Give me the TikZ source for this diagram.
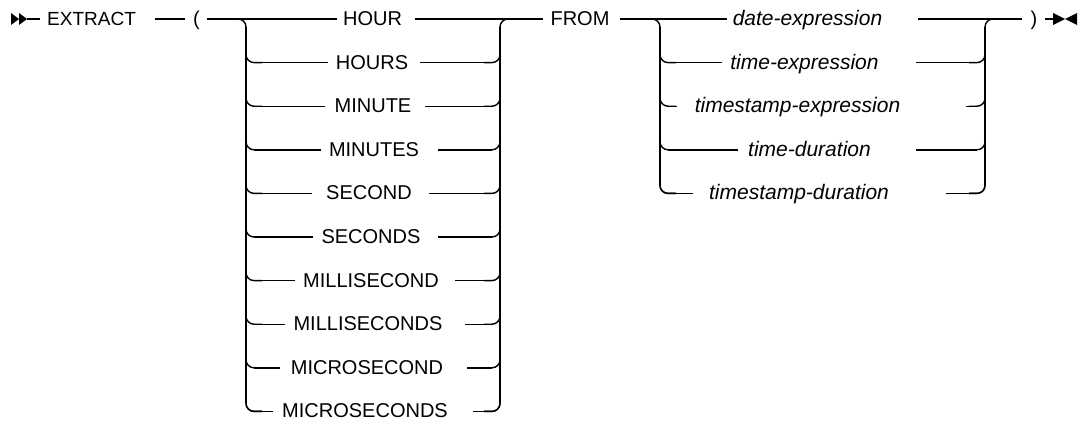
\documentclass[tikz,border=0pt]{standalone}
\usepackage{fontspec}
\setmainfont{Liberation Sans}
\newfontfamily\kwfont{Liberation Sans}
\begin{document}
\begin{tikzpicture}[x=1pt,y=-1pt,
  rail/.style={line width=1.4pt},
  corner/.style={line width=1.4pt, rounded corners=8pt},
  barv/.style={line width=2pt},
  kw/.style={font=\kwfont\fontsize{20}{20}\selectfont, inner sep=0pt, anchor=base},
  var/.style={font=\kwfont\fontsize{21}{21}\selectfont\itshape, inner sep=0pt, anchor=base},
  tip/.style={fill=black, draw=none}]
\useasboundingbox (0,0) rectangle (1078,426);
% #1 y, #2 name, #3 text, #4 cx, #5 line end, #6 line start
\newcommand\lchoice[6]{%
  \node[kw] (#2) at (#4,#1+6.5) {#3};
  \coordinate (#2-l) at (#5,#1); \coordinate (#2-r) at (#6,#1);
  \draw[rail] (254,#1) -- (#2-l);
  \draw[rail] (#2-r) -- (492,#1);
  \draw[corner] (246,#1-16) -- (246,#1) -- (262,#1);
  \draw[corner] (484,#1) -- (500,#1) -- (500,#1-16);
}
\newcommand\rchoice[6]{%
  \node[var] (#2) at (#4,#1+6.5) {#3};
  \coordinate (#2-l) at (#5,#1); \coordinate (#2-r) at (#6,#1);
  \draw[rail] (668,#1) -- (#2-l);
  \draw[rail] (#2-r) -- (977,#1);
  \draw[corner] (660,#1-16) -- (660,#1) -- (676,#1);
  \draw[corner] (969,#1) -- (985,#1) -- (985,#1-16);
}
% start symbol
\coordinate (s0) at (27,19);
\fill[tip] (11,13) -- (19,19) -- (11,25) -- cycle;
\fill[tip] (19,13) -- (27,19) -- (19,25) -- cycle;
\node[kw, anchor=base west, font=\kwfont\fontsize{19}{19}\selectfont] (extract) at (47,25.5) {EXTRACT};
\coordinate (s1) at (40,19);
\draw[rail] (s0) -- (s1);
\coordinate (a0) at (155,19); \coordinate (a1) at (185,19);
\draw[rail] (a0) -- (a1);
\node[kw] (lp) at (196.5,25.5) {(};
\coordinate (b0) at (207,19);
% left group bars
\draw[corner] (230,19) -- (246,19) -- (246,35);
\draw[barv] (246,27) -- (246,403.4);
\draw[corner] (246,395.4) -- (246,411.4) -- (262,411.4);
\draw[corner] (484,411.4) -- (500,411.4) -- (500,395.4);
\draw[barv] (500,403.4) -- (500,27);
\draw[corner] (500,35) -- (500,19) -- (516,19);
% top row of left group
\node[kw] (hour) at (372.5,25.5) {HOUR};
\coordinate (hour-l) at (337,19); \coordinate (hour-r) at (415,19);
\draw[rail] (b0) -- (hour-l);
\coordinate (f0) at (543,19);
\draw[rail] (hour-r) -- (f0);
\lchoice{62.6}{hours}{HOURS}{372}{328}{420}
\lchoice{106.2}{minute}{MINUTE}{373}{325}{425}
\lchoice{149.8}{minutes}{MINUTES}{374}{321}{438}
\lchoice{193.4}{second}{SECOND}{369}{312}{429}
\lchoice{237}{seconds}{SECONDS}{371}{313}{438}
\lchoice{280.6}{msec}{MILLISECOND}{371}{295}{455}
\lchoice{324.2}{msecs}{MILLISECONDS}{368}{285}{465}
\lchoice{367.8}{usec}{MICROSECOND}{367}{280}{467}
\lchoice{411.4}{usecs}{MICROSECONDS}{365}{273}{473}
% FROM
\node[kw] (from) at (580,25.5) {FROM};
\coordinate (g0) at (620,19);
% right group bars
\draw[corner] (644,19) -- (660,19) -- (660,35);
\draw[barv] (660,27) -- (660,185.4);
\draw[corner] (660,177.4) -- (660,193.4) -- (676,193.4);
\draw[corner] (969,193.4) -- (985,193.4) -- (985,177.4);
\draw[barv] (985,185.4) -- (985,27);
\draw[corner] (985,35) -- (985,19) -- (1001,19);
\node[var] (date) at (807.5,25.5) {date-expression};
\coordinate (date-l) at (727,19); \coordinate (date-r) at (918,19);
\draw[rail] (g0) -- (date-l);
\coordinate (h0) at (1022,19);
\draw[rail] (date-r) -- (h0);
\rchoice{62.6}{timee}{time-expression}{804.5}{722}{916}
\rchoice{106.2}{tse}{timestamp-expression}{797.5}{677}{966}
\rchoice{149.8}{timed}{time-duration}{809.5}{738}{916}
\rchoice{193.4}{tsd}{timestamp-duration}{799}{693}{946}
% end
\node[kw] (rp) at (1034,25.5) {)};
\coordinate (e0) at (1045,19); \coordinate (e1) at (1060,19);
\draw[rail] (e0) -- (e1);
\fill[tip] (1053,13) -- (1065,19) -- (1053,25) -- cycle;
\fill[tip] (1077,13) -- (1065,19) -- (1077,25) -- cycle;
\end{tikzpicture}
\end{document}
